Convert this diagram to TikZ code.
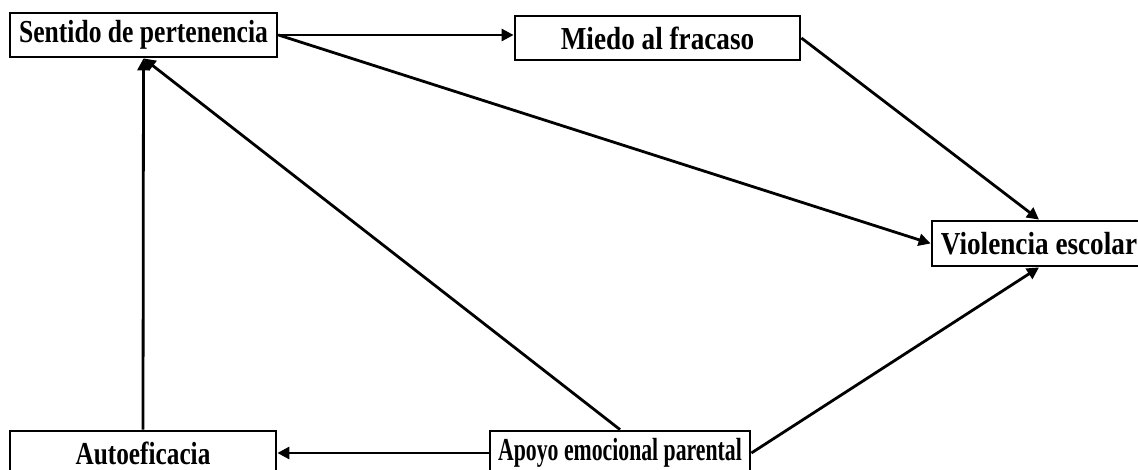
\documentclass[tikz,border=0pt]{standalone}
\usepackage{fontspec}
\setmainfont{Liberation Serif}
\usetikzlibrary{arrows.meta}

\begin{document}
\begin{tikzpicture}[x=1pt, y=1pt,
        box/.style={draw=black, line width=2.8pt, inner sep=0pt, font=\fontsize{32}{34}\selectfont\bfseries},
        link/.style={black, line width=2.8pt, -{Triangle[length=12pt,width=12pt]}}]
            \useasboundingbox (0,0) rectangle (1138,470);
            \clip (0,0) rectangle (1138,470);

            \node[box, minimum width=267pt, minimum height=44pt] (sent) at (143.5,435) {\scalebox{0.80}[1]{Sentido de pertenencia}};
            \node[box, minimum width=285pt, minimum height=44pt] (miedo) at (657.5,432) {\scalebox{0.85}[1]{Miedo al fracaso}};
            \node[box, minimum width=214pt, minimum height=45pt] (viol) at (1039,226.5) {\scalebox{0.85}[1]{Violencia escolar}};
            \node[box, minimum width=266pt, minimum height=44pt] (auto) at (143,17) {\scalebox{0.79}[1]{Autoeficacia}};
            \node[box, minimum width=260pt, minimum height=44pt] (apoyo) at (620,17) {\scalebox{0.68}[1]{Apoyo emocional parental}};

            \draw[link] (sent.east) -- (sent.east -| miedo.west);
            \draw[link] (sent.east) -- (viol.west);
            \draw[link] (miedo.east) -- (viol.north);
            \draw[link] (apoyo.east) -- (viol.south);
            \draw[link] (apoyo.north) -- (sent.south);
            \draw[link] (auto.north) -- (sent.south);
            \draw[link] (apoyo.west) -- (auto.east);
        \end{tikzpicture}
\end{document}
